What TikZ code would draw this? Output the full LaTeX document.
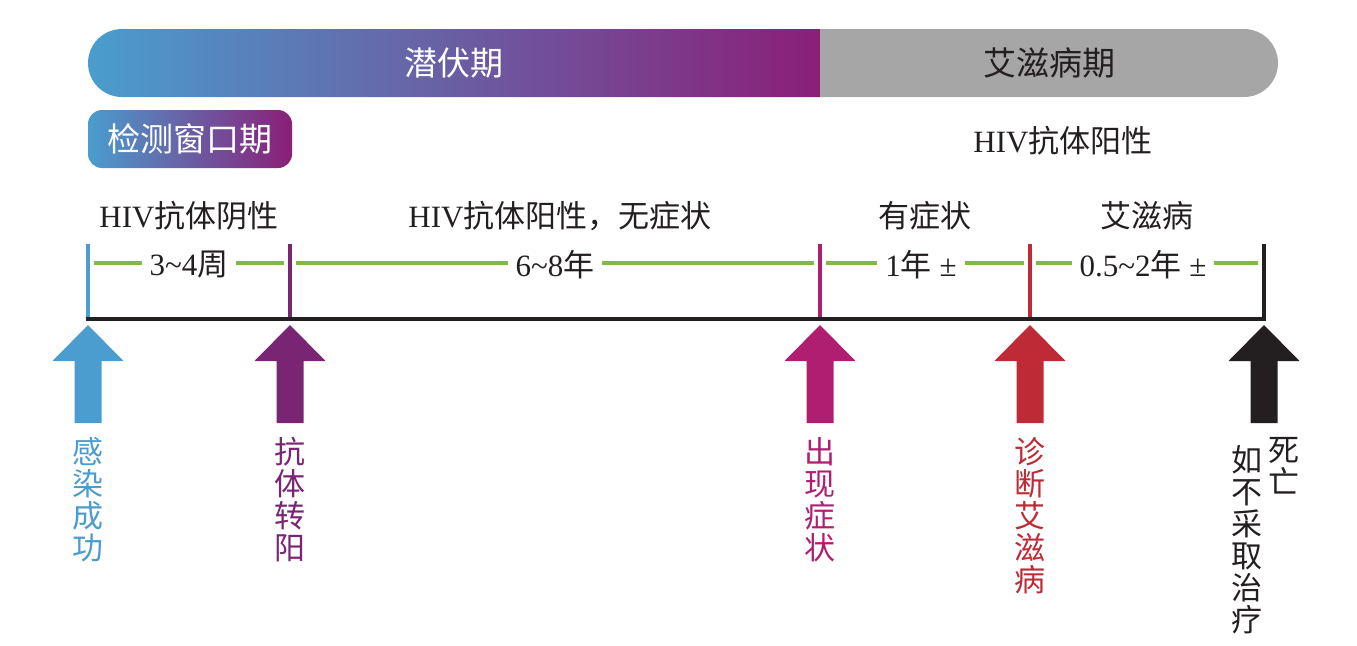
\documentclass[tikz,border=0pt]{standalone}
\usepackage{fontspec}
\setmainfont{Liberation Serif}
\newfontfamily\cjk{Noto Sans CJK SC}
\usetikzlibrary{calc,positioning}
\definecolor{cblue}{HTML}{4A9DCE}
\definecolor{cplum}{HTML}{8A1F78}
\definecolor{cpurple}{HTML}{7A2474}
\definecolor{cmagenta}{HTML}{B01E72}
\definecolor{cred}{HTML}{BE2A35}
\definecolor{ctext}{HTML}{231F20}
\definecolor{cgreen}{HTML}{7DBB42}
\definecolor{cgray}{HTML}{A7A6A7}
\begin{document}
\begin{tikzpicture}[x=0.5pt,y=-0.5pt,
    tick/.style={line width=1.6pt},
    span/.style={cgreen,line width=1.7pt,shorten <=3pt,shorten >=3pt},
    dur/.style={fill=white,inner xsep=4pt,inner ysep=1pt,text=ctext,
      font=\fontsize{15.5}{16}\selectfont},
    phase/.style={text=ctext,inner sep=0pt,font=\fontsize{15.5}{16}\selectfont},
    bartext/.style={font=\cjk\fontsize{16.5}{17}\selectfont},
    vert/.style={anchor=north,align=center,inner sep=0pt,
      font=\cjk\fontsize{15.5}{16}\selectfont}
  ]
  \useasboundingbox (0,0) rectangle (1357,645);

  % phase bar
  \shade[left color=cblue,right color=cplum] (820,29) -- (122,29)
    arc[start angle=-90,end angle=-270,radius=34] -- (820,97) -- cycle;
  \fill[cgray] (820,29) -- (1244,29)
    arc[start angle=-90,end angle=90,radius=34] -- (820,97) -- cycle;
  \node[bartext,white] (latent) at (454,63) {潜伏期};
  \node[bartext,ctext] (aids) at (1049,63) {艾滋病期};

  \node[bartext,white,left color=cblue,right color=cplum,rounded corners=7pt,
    minimum width=102pt,minimum height=29pt,inner sep=0pt] (window) at (190,139) {检测窗口期};
  \node[phase] (pos) at (1063,141) {HIV{\cjk 抗体阳性}};

  % ticks and arrows
  \foreach \i/\x/\c in {1/88/cblue,2/290/cpurple,3/820/cmagenta,4/1030/cred,5/1264/ctext}{
    \coordinate (b\i) at (\x,319);
    \coordinate (g\i) at (\x,263);
    \draw[tick,\c] (b\i) -- (\x,244);
    \fill[\c] (\x,325) -- (\x+35.5,361) -- (\x+13.5,361) -- (\x+13.5,423)
      -- (\x-13.5,423) -- (\x-13.5,361) -- (\x-35.5,361) -- cycle;
  }
  \draw[line width=1.8pt,ctext] ([xshift=-0.8pt]b1) -- ([xshift=0.8pt]b5);
  \foreach \i/\j in {1/2,2/3,3/4,4/5}
    \draw[span] (g\i) -- (g\j);

  \node[dur] (d1) at ($(g1)!0.5!(g2)+(0,2)$) {3\textasciitilde4{\cjk 周}};
  \node[dur] (d2) at ($(g2)!0.5!(g3)+(0,2)$) {6\textasciitilde8{\cjk 年}};
  \node[dur] (d3) at ($(g3)!0.5!(g4)+(-4,2)$) {1{\cjk 年} ±};
  \node[dur] (d4) at ($(g4)!0.5!(g5)+(-4,2)$) {0.5\textasciitilde2{\cjk 年} ±};

  \node[phase] (p1) at ($(g1)!0.5!(g2)+(0,-47)$) {HIV{\cjk 抗体阴性}};
  \node[phase] (p2) at ($(g2)!0.5!(g3)+(5,-47)$) {HIV{\cjk 抗体阳性，无症状}};
  \node[phase,font=\cjk\fontsize{15.5}{16}\selectfont] (p3) at ($(g3)!0.5!(g4)+(0,-47)$) {有症状};
  \node[phase,font=\cjk\fontsize{15.5}{16}\selectfont] (p4) at ($(g4)!0.5!(g5)+(0,-47)$) {艾滋病};

  % events
  \node[vert,cblue] (e1) at (88,437) {感\\染\\成\\功};
  \node[vert,cpurple] (e2) at (290,437) {抗\\体\\转\\阳};
  \node[vert,cmagenta] (e3) at (820,437) {出\\现\\症\\状};
  \node[vert,cred] (e4) at (1030,437) {诊\\断\\艾\\滋\\病};
  \node[vert,ctext] (e5) at (1284,437) {死\\亡};
  \node[vert,ctext] (e6) at (1247,445) {如\\不\\采\\取\\治\\疗};
\end{tikzpicture}
\end{document}
